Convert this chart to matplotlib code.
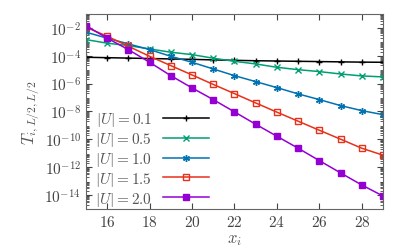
import matplotlib
matplotlib.use("Agg")
import matplotlib.pyplot as plt
import numpy as np

plt.rcParams["mathtext.fontset"] = "cm"
plt.rcParams["font.family"] = "serif"
plt.rcParams["font.serif"] = ["DejaVu Serif"]

# sites
x = list(range(15, 30))

# log10 of T for each |U|
logT_01 = [-4.11, -4.14, -4.17, -4.20, -4.23, -4.26, -4.30, -4.33, -4.36, -4.38, -4.40, -4.42, -4.44, -4.46, -4.47]
logT_05 = [-2.84, -3.10, -3.27, -3.51, -3.75, -3.92, -4.18, -4.40, -4.59, -4.83, -5.00, -5.14, -5.31, -5.45, -5.52]
logT_10 = [-2.31, -2.74, -3.15, -3.56, -4.04, -4.47, -4.95, -5.43, -5.86, -6.29, -6.74, -7.15, -7.58, -7.94, -8.23]
logT_15 = [-1.95, -2.60, -3.32, -4.04, -4.71, -5.38, -6.06, -6.72, -7.39, -8.05, -8.70, -9.35, -9.99, -10.64, -11.14]
logT_20 = [-1.84, -2.74, -3.56, -4.47, -5.43, -6.31, -7.15, -8.03, -8.92, -9.78, -10.64, -11.53, -12.41, -13.28, -14.07]

labels = [r"$|U| = 0.1$", r"$|U| = 0.5$", r"$|U| = 1.0$", r"$|U| = 1.5$", r"$|U| = 2.0$"]
series = [logT_01, logT_05, logT_10, logT_15, logT_20]
colors = ["#000000", "#009e73", "#0072b2", "#e8301a", "#9400d3"]
markers = ["+", "x", (6, 2, 0), "s", "s"]
fills = ["full", "full", "full", "none", "full"]

fig = plt.figure(figsize=(4.11, 2.53), dpi=100)
ax = fig.add_axes([0.209, 0.170, 0.723, 0.771])

for ys, lab, c, m, f in zip(series, labels, colors, markers, fills):
    ax.plot(x, 10.0 ** np.array(ys), color=c, marker=m, fillstyle=f,
            markersize=5, markeredgewidth=1.0, linewidth=1.1, label=lab)

ax.set_yscale("log")
ax.set_xlim(15, 29)
ax.set_ylim(1e-15, 1e-1)
ax.set_xticks([16, 18, 20, 22, 24, 26, 28])
ax.set_yticks([1e-2, 1e-4, 1e-6, 1e-8, 1e-10, 1e-12, 1e-14])
ax.set_yticklabels([r"$10^{-2}$", r"$10^{-4}$", r"$10^{-6}$", r"$10^{-8}$",
                    r"$10^{-10}$", r"$10^{-12}$", r"$10^{-14}$"])
ax.set_xticklabels([r"$%d$" % v for v in [16, 18, 20, 22, 24, 26, 28]])
ax.yaxis.set_minor_locator(matplotlib.ticker.LogLocator(base=10, subs=np.arange(2, 10), numticks=30))
ax.yaxis.set_minor_formatter(matplotlib.ticker.NullFormatter())
ax.tick_params(which="both", direction="in", top=True, right=True, labelsize=11, colors="#444444")
ax.tick_params(which="major", length=4)
ax.tick_params(which="minor", length=2)
for s in ax.spines.values():
    s.set_color("#666666")

ax.set_xlabel(r"$x_i$", fontsize=12, color="#555555", labelpad=1)
ax.set_ylabel(r"$T_{i,L/2,L/2}$", fontsize=12, color="#555555", labelpad=2)

leg = ax.legend(loc="lower left", bbox_to_anchor=(0.0, -0.04), frameon=False, markerfirst=False,
                fontsize=11, handlelength=3.0, labelspacing=0.12, borderaxespad=0.2, handletextpad=0.7)
for t in leg.get_texts():
    t.set_color("#555555")

fig.savefig("out.png", dpi=100)
